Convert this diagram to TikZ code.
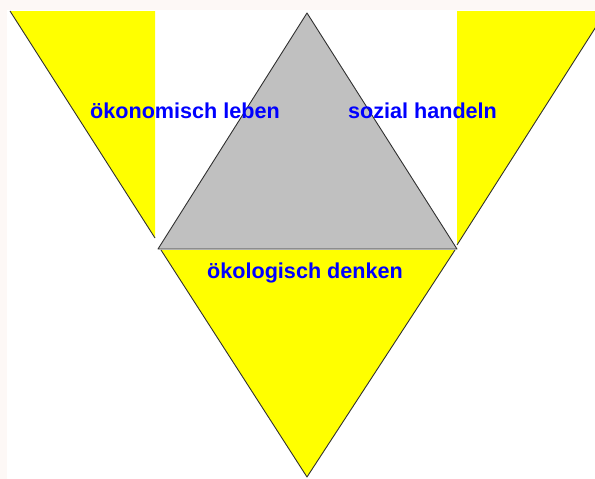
\documentclass[tikz,border=0pt]{standalone}
\usepackage{fontspec}
\setmainfont{Liberation Sans}
\usetikzlibrary{positioning}
\definecolor{bgP}{HTML}{FDF8F6}
\definecolor{gelb}{HTML}{FFFF00}
\definecolor{grauT}{HTML}{C0C0C0}
\definecolor{kante}{HTML}{303030}
\definecolor{blauT}{HTML}{0000FF}

\begin{document}
\begin{tikzpicture}[x=1pt, y=-1pt,
    wort/.style={text=blauT, font=\fontsize{21.6}{24}\selectfont\bfseries, inner sep=0pt},
    rand/.style={draw=kante, line width=0.9pt, line join=round}]
  % canvas
  \useasboundingbox (0,0) rectangle (595,479);
  \fill[bgP] (0,0) rectangle (595,479);
  \fill[white] (7,10) rectangle (595,479);
  \clip (7,10) rectangle (595,479);
  % left wedge
  \fill[gelb] (10,11) -- (155,11) -- (155,238) -- cycle;
  \draw[rand] (10,11) -- (155,238);
  % right wedge
  \fill[gelb] (457,11) -- (606,11) -- (457,245) -- cycle;
  \draw[rand] (606,11) -- (457,245);
  % bottom wedge
  \fill[gelb] (161,250) -- (455,250) -- (307,477) -- cycle;
  \draw[rand] (161,250) -- (307,477) -- (455,250);
  % centre triangle
  \filldraw[fill=grauT, rand] (307,13) -- (457,249) -- (158,249) -- cycle;
  % labels
  \node[wort] (oekon) at (185,111) {ökonomisch leben};
  \node[wort] (sozial) at (422.5,111) {sozial handeln};
  \node[wort] (oekol) at (305,273) {ökologisch denken};
\end{tikzpicture}
\end{document}
